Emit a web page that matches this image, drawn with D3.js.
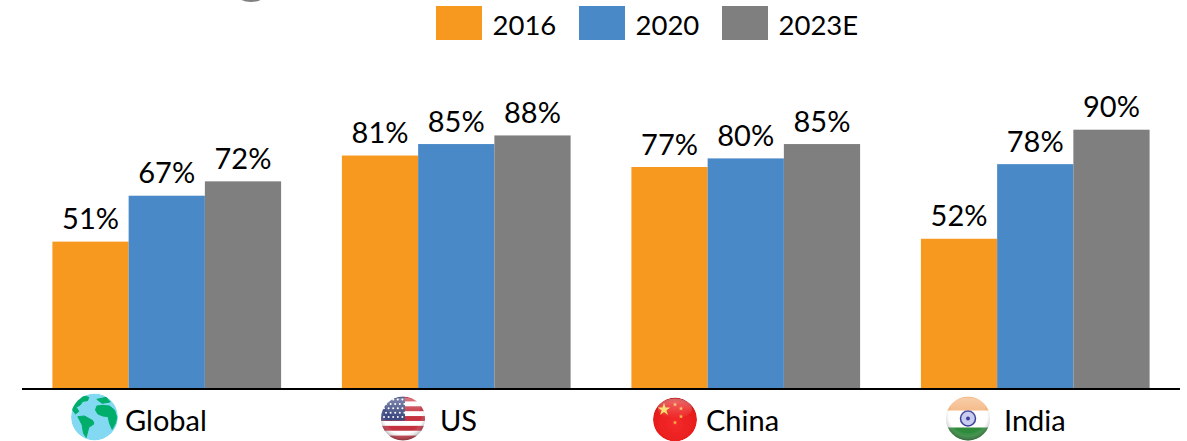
<!DOCTYPE html>
<html>
<head>
<meta charset="utf-8">
<script src="https://cdn.jsdelivr.net/npm/d3@7"></script>
<style>
  html, body { margin: 0; padding: 0; background: #fff; overflow: hidden; }
  text { font-family: Lato, "Open Sans", sans-serif; fill: #000; }
</style>
</head>
<body>
<div id="chart"></div>
<script>
//chart data
var categories = ["Global", "US", "China", "India"]
var seriesNames = ["2016", "2020", "2023E"]
var values2016 = [51, 81, 77, 52]
var values2020 = [67, 85, 80, 78]
var values2023 = [72, 88, 85, 90]
var colors = ["#F7981F", "#4A89C8", "#7F7F7F"]

var seriesValues = [values2016, values2020, values2023]

//setting dimensions
var width = 1187, height = 441, axisY = 388

var svg = d3.select("#chart").append("svg")
    .attr("width", width)
    .attr("height", height)
    .style("display", "block")

var defs = svg.append("defs")

//defining scales
var x = d3.scaleBand().domain(categories).range([22, 1180]).paddingInner(0.21).paddingOuter(0.105)
var x1 = d3.scaleBand().domain(seriesNames).range([0, x.bandwidth()])
var y = d3.scaleLinear().domain([0, 100]).range([axisY, 101])
var color = d3.scaleOrdinal().domain(seriesNames).range(colors)

//building bars and their labels
seriesNames.forEach(function(name, s) {
  var g = svg.append("g").attr("class", "series")
  g.selectAll("rect")
    .data(seriesValues[s])
    .enter()
    .append("rect")
    .attr("x", function(d, i) { return x(categories[i]) + x1(name) })
    .attr("y", function(d) { return y(d) })
    .attr("width", x1.bandwidth())
    .attr("height", function(d) { return axisY - y(d) })
    .attr("fill", color(name))
  g.selectAll("text")
    .data(seriesValues[s])
    .enter()
    .append("text")
    .attr("x", function(d, i) { return x(categories[i]) + x1(name) + x1.bandwidth() / 2 })
    .attr("y", function(d) { return y(d) - 12.5 })
    .attr("text-anchor", "middle")
    .style("font-size", "29px")
    .text(function(d) { return d + "%" })
})

//axis line
svg.append("line")
  .attr("x1", 22).attr("x2", 1180)
  .attr("y1", axisY + 1).attr("y2", axisY + 1)
  .attr("stroke", "#000")
  .attr("stroke-width", 2)

//legend
var legendX = d3.scalePoint().domain(seriesNames).range([436, 722])
var legend = svg.selectAll(".legend")
  .data(seriesNames)
  .enter()
  .append("g")
  .attr("class", "legend")
  .attr("transform", function(d) { return "translate(" + legendX(d) + ",6)" })
legend.append("rect")
  .attr("width", 46).attr("height", 34)
  .attr("fill", function(d) { return color(d) })
legend.append("text")
  .attr("x", 56.5).attr("y", 29)
  .style("font-size", "27.5px")
  .text(function(d) { return d })

//bit of a cropped icon at the top edge
svg.append("ellipse")
  .attr("cx", 251).attr("cy", -8)
  .attr("rx", 16).attr("ry", 10)
  .attr("fill", "#808080")

//gloss shared by the flag icons
var gloss = defs.append("radialGradient").attr("id", "gloss")
  .attr("cx", "50%").attr("cy", "42%").attr("r", "58%")
gloss.append("stop").attr("offset", "0.7").attr("stop-color", "#fff").attr("stop-opacity", 0)
gloss.append("stop").attr("offset", "1").attr("stop-color", "#333").attr("stop-opacity", 0.45)

var shine = defs.append("linearGradient").attr("id", "shine")
  .attr("x1", 0).attr("y1", 0).attr("x2", 0).attr("y2", 1)
shine.append("stop").attr("offset", "0").attr("stop-color", "#fff").attr("stop-opacity", 0.35)
shine.append("stop").attr("offset", "1").attr("stop-color", "#fff").attr("stop-opacity", 0)

var soft = defs.append("filter").attr("id", "soft")
soft.append("feGaussianBlur").attr("stdDeviation", 0.5)

//category labels and their icons
var labelX = { Global: 125, US: 440, China: 706, India: 1004 }
var iconPos = {
  Global: { cx: 94.5, cy: 417, r: 23.5 },
  US: { cx: 403, cy: 418.5, r: 22 },
  China: { cx: 675, cy: 419.5, r: 22 },
  India: { cx: 968, cy: 418.5, r: 22 }
}

svg.selectAll(".cat")
  .data(categories)
  .enter()
  .append("text")
  .attr("class", "cat")
  .attr("x", function(d) { return labelX[d] })
  .attr("y", 431)
  .style("font-size", "29px")
  .text(function(d) { return d })

function icon(name) {
  var p = iconPos[name]
  var id = "clip" + name
  defs.append("clipPath").attr("id", id).append("circle").attr("r", p.r)
  var outer = svg.append("g").attr("transform", "translate(" + p.cx + "," + p.cy + ")")
  var g = outer.append("g").attr("clip-path", "url(#" + id + ")")
  return { g: g, r: p.r, outer: outer }
}

function addGloss(ic) {
  ic.outer.append("circle").attr("r", ic.r).attr("fill", "url(#gloss)")
  ic.outer.append("ellipse").attr("cy", -ic.r * 0.5).attr("rx", ic.r * 0.8).attr("ry", ic.r * 0.45).attr("fill", "url(#shine)")
}

//globe
var globe = icon("Global")
globe.g.append("circle").attr("r", globe.r).attr("fill", "#83D9F1")
var land = globe.g.append("g").attr("transform", "scale(0.3333) translate(-105,-81)")
  .attr("fill", "#00AE6C").attr("stroke", "#00AE6C").attr("stroke-width", 3).attr("stroke-linejoin", "round")
var continents = [
  "M60,22 Q75,15 88,22 L84,32 L70,34 L62,45 L50,52 L58,64 L48,72 L38,58 L42,42 Z",
  "M55,80 L75,78 L100,92 L103,102 L88,112 L80,142 L72,130 L68,105 Z",
  "M112,48 L130,46 L150,48 L165,60 L172,82 L168,100 L158,118 L150,100 L146,80 L130,78 L115,72 L108,60 Z",
  "M112,28 L140,22 L152,36 L128,40 Z"
]
land.selectAll("path").data(continents).enter().append("path").attr("d", function(d) { return d })

//US flag
var us = icon("US")
us.g.append("rect").attr("x", -22).attr("y", -22).attr("width", 44).attr("height", 44).attr("fill", "#fff")
var stripeY = d3.scaleBand().domain(d3.range(9)).range([-22, 22])
us.g.selectAll(".stripe")
  .data(d3.range(0, 9, 2))
  .enter()
  .append("rect")
  .attr("x", -22)
  .attr("y", function(d) { return stripeY(d) })
  .attr("width", 44)
  .attr("height", stripeY.bandwidth())
  .attr("fill", "#C4303F")
us.g.append("rect").attr("x", -22).attr("y", -22).attr("width", 24).attr("height", 24).attr("fill", "#3C4A80")
var starCols = d3.range(5), starRows = d3.range(5)
starRows.forEach(function(r) {
  us.g.selectAll(".star" + r)
    .data(starCols)
    .enter()
    .append("circle")
    .attr("cx", function(c) { return -19 + c * 4.6 + (r % 2) * 2 })
    .attr("cy", -19 + r * 4.4)
    .attr("r", 1)
    .attr("fill", "#fff")
})
us.g.attr("filter", "url(#soft)")
addGloss(us)

//China flag
var cn = icon("China")
var cnGrad = defs.append("radialGradient").attr("id", "cnRed").attr("cy", "60%").attr("r", "62%")
cnGrad.append("stop").attr("offset", "0").attr("stop-color", "#F42A2A")
cnGrad.append("stop").attr("offset", "0.8").attr("stop-color", "#E81C1C")
cnGrad.append("stop").attr("offset", "1").attr("stop-color", "#A51414")
cn.g.append("circle").attr("r", 22).attr("fill", "url(#cnRed)")
var bigStar = d3.symbol().type(d3.symbolStar).size(50)
cn.g.append("path").attr("d", bigStar).attr("transform", "translate(-11,-10)").attr("fill", "#F8DB5A")
var smallStars = [[0, -15], [6, -11], [6, -3], [0, 3]]
cn.g.selectAll(".small")
  .data(smallStars)
  .enter()
  .append("path")
  .attr("d", d3.symbol().type(d3.symbolStar).size(7))
  .attr("transform", function(d) { return "translate(" + d[0] + "," + d[1] + ")" })
  .attr("fill", "#F4B44A")
cn.g.attr("filter", "url(#soft)")
cn.outer.append("ellipse").attr("cy", -11).attr("rx", 17).attr("ry", 10).attr("fill", "url(#shine)")

//India flag
var ind = icon("India")
ind.g.append("rect").attr("x", -22).attr("y", -22).attr("width", 44).attr("height", 44).attr("fill", "#fff")
ind.g.append("rect").attr("x", -22).attr("y", -22).attr("width", 44).attr("height", 14).attr("fill", "#F4B27A")
ind.g.append("rect").attr("x", -22).attr("y", 9).attr("width", 44).attr("height", 14).attr("fill", "#2E8B3A")
ind.g.append("circle").attr("r", 7.5).attr("fill", "#C9CBEF").attr("stroke", "#39409A").attr("stroke-width", 1.5)
ind.g.append("circle").attr("r", 2).attr("fill", "#39409A")
ind.g.attr("filter", "url(#soft)")
addGloss(ind)
</script>
</body>
</html>
